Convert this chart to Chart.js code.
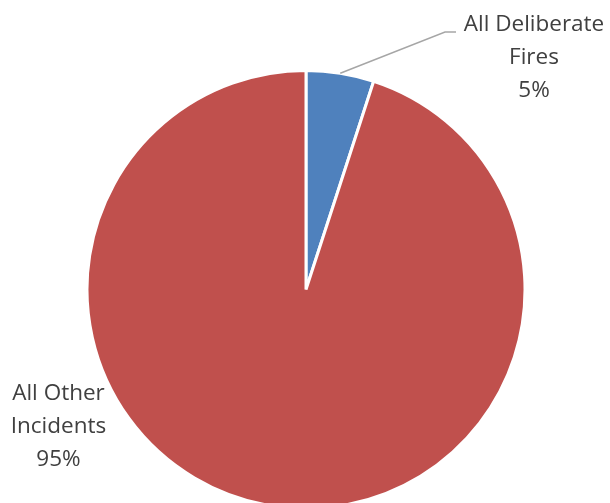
<!DOCTYPE html>
<html>
<head>
<meta charset="utf-8">
<script src="https://cdn.jsdelivr.net/npm/chart.js@4/dist/chart.umd.min.js"></script>
<style>
  html, body { margin: 0; padding: 0; background: #fff; }
  #wrap { width: 610px; height: 503px; }
</style>
</head>
<body>
<div id="wrap"><canvas id="incidentChart"></canvas></div>
<script>
const categories = ["All Deliberate Fires", "All Other Incidents"];
const labelLines = [["All Deliberate", "Fires"], ["All Other", "Incidents"]];
const shares = [5, 95];
const colors = ["#4F81BD", "#C0504D"];

// where each slice's label block sits (centre x, first baseline y)
const labelSpots = [
  { x: 534, y: 31, elbow: [445, 32], end: [456, 32] },
  { x: 58.5, y: 400 },
];

const sliceLabels = {
  id: "sliceLabels",
  afterDatasetsDraw(chart) {
    const ctx = chart.ctx;
    const meta = chart.getDatasetMeta(0);
    const total = shares.reduce((a, b) => a + b, 0);
    ctx.save();
    meta.data.forEach((arc, i) => {
      const spot = labelSpots[i];
      const { x, y, startAngle, endAngle, outerRadius } = arc.getProps(
        ["x", "y", "startAngle", "endAngle", "outerRadius"], true);

      if (spot.elbow) {
        const mid = (startAngle + endAngle) / 2;
        ctx.beginPath();
        ctx.moveTo(x + Math.cos(mid) * outerRadius, y + Math.sin(mid) * outerRadius);
        ctx.lineTo(spot.elbow[0], spot.elbow[1]);
        ctx.lineTo(spot.end[0], spot.end[1]);
        ctx.strokeStyle = "#A6A6A6";
        ctx.lineWidth = 1.5;
        ctx.stroke();
      }

      const lines = labelLines[i].concat([Math.round(shares[i] / total * 100) + "%"]);
      ctx.fillStyle = "#404040";
      ctx.font = "22.5px 'Open Sans'";
      ctx.textAlign = "center";
      ctx.textBaseline = "alphabetic";
      lines.forEach((t, k) => ctx.fillText(t, spot.x, spot.y + k * 33));
    });
    ctx.restore();
  },
};

new Chart(document.getElementById("incidentChart"), {
  type: "pie",
  data: {
    labels: categories,
    datasets: [
      {
        data: shares,
        backgroundColor: colors,
        borderColor: "#ffffff",
        borderWidth: 3,
        clip: false,
      },
    ],
  },
  options: {
    responsive: true,
    maintainAspectRatio: false,
    animation: false,
    radius: 219,
    layout: { padding: { left: 2, right: 0, top: 76, bottom: 0 } },
    plugins: {
      legend: { display: false },
      tooltip: { enabled: false },
    },
  },
  plugins: [sliceLabels],
});
</script>
</body>
</html>
